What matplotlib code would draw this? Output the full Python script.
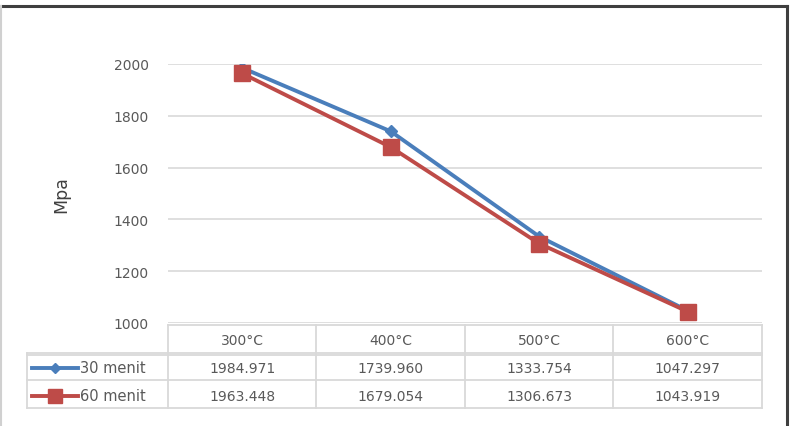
import matplotlib.pyplot as plt
from matplotlib.lines import Line2D

# data
kategori = ['300°C', '400°C', '500°C', '600°C']
menit30 = [1984.971, 1739.960, 1333.754, 1047.297]
menit60 = [1963.448, 1679.054, 1306.673, 1043.919]
seri = ['30 menit', '60 menit']
yticks = [1000, 1200, 1400, 1600, 1800, 2000]

biru = '#4A7EBB'
merah = '#BE4B48'
abu = '#595959'
garis = '#D9D9D9'

W, H = 791, 427
fig = plt.figure(figsize=(W / 100, H / 100), dpi=100)

def px(x0, y0, x1, y1):
    return [x0 / W, 1 - y1 / H, (x1 - x0) / W, (y1 - y0) / H]

# grafik utama
ax = fig.add_axes(px(168, 65, 762, 324))
xs = range(len(kategori))
ax.plot(xs, menit30, color=biru, lw=2.8, marker='D', ms=6.5, zorder=3)
ax.plot(xs, menit60, color=merah, lw=2.8, marker='s', ms=11.5, zorder=3)
ax.set_xlim(-0.5, len(kategori) - 0.5)
ax.set_ylim(1000, 2000)
ax.set_yticks(yticks)
ax.set_xticks([])
ax.grid(axis='y', color=garis, lw=1.2)
ax.set_axisbelow(True)
for s in ax.spines.values():
    s.set_visible(False)
ax.tick_params(axis='y', length=0, pad=14, labelsize=10, labelcolor=abu)
ax.set_ylabel('Mpa', fontsize=12.5, color='#404040', labelpad=31)
for t in ax.get_yticklabels():
    t.set_clip_on(False)

# tabel data
lebar = 148.5
kiri = -0.5 - (168 - 27) / lebar
tax = fig.add_axes(px(27, 326, 762, 409))
tax.set_xlim(kiri, len(kategori) - 0.5)
tax.set_ylim(3, 0)
tax.axis('off')

kw = dict(color=garis, lw=1.3, clip_on=False)
tax.plot([-0.5, len(kategori) - 0.5], [0, 0], **kw)
for r in [1, 2, 3]:
    tax.plot([kiri, len(kategori) - 0.5], [r, r], **kw)
tax.plot([kiri, len(kategori) - 0.5], [1.07, 1.07], **kw)
tax.plot([kiri, kiri], [1, 3], **kw)
for c in range(len(kategori) + 1):
    tax.plot([c - 0.5, c - 0.5], [0, 3], **kw)

for i, k in enumerate(kategori):
    tax.text(i, 0.55, k, ha='center', va='center', fontsize=10, color=abu)
for r, vals in enumerate([menit30, menit60]):
    for i, v in enumerate(vals):
        tax.text(i, r + 1.55, f'{v:.3f}', ha='center', va='center',
                 fontsize=10, color=abu)

# legenda di kolom kiri
lx0 = kiri + 5 / lebar
lx1 = kiri + 51 / lebar
for r, (nama, warna, mk, ms) in enumerate(
        zip(seri, [biru, merah], ['D', 's'], [5, 10])):
    yy = r + 1.55
    tax.add_line(Line2D([lx0, lx1], [yy, yy], color=warna, lw=2.8))
    tax.add_line(Line2D([(lx0 + lx1) / 2], [yy], color=warna, marker=mk,
                        ms=ms, lw=0))
    tax.text(lx1 + 2 / lebar, yy, nama, ha='left', va='center',
             fontsize=10.5, color=abu)

# bingkai luar: atas dan kanan gelap, kiri tipis abu-abu
fig.add_artist(Line2D([0, 787 / W], [1 - 6.5 / H] * 2,
                      transform=fig.transFigure, color='#3F3F3F', lw=2.2))
fig.add_artist(Line2D([787 / W] * 2, [0, 1 - 6.5 / H],
                      transform=fig.transFigure, color='#3F3F3F', lw=2.2))
fig.add_artist(Line2D([1 / W] * 2, [0, 1 - 6.5 / H],
                      transform=fig.transFigure, color='#D0D0D0', lw=1.5))

fig.savefig('out.png', dpi=100)
